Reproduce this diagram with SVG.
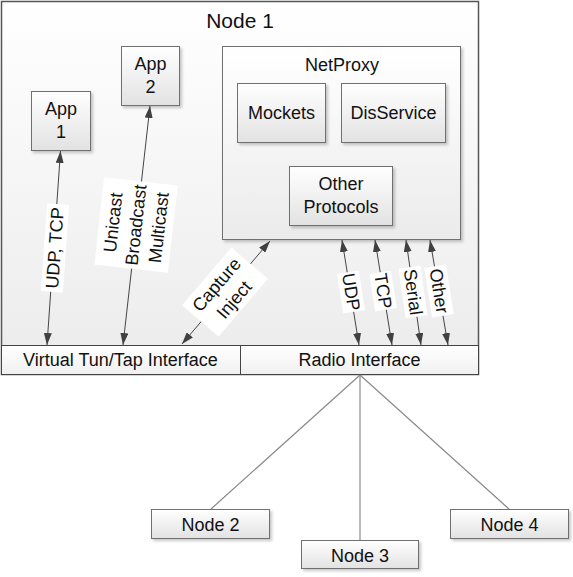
<svg xmlns="http://www.w3.org/2000/svg" width="573" height="577" viewBox="0 0 573 577">
<defs>
<linearGradient id="gBox" x1="0" y1="0" x2="0" y2="1"><stop offset="0" stop-color="#ffffff"/><stop offset="1" stop-color="#e2e2e2"/></linearGradient>
<linearGradient id="gOuter" x1="0" y1="0" x2="0" y2="1"><stop offset="0" stop-color="#ffffff"/><stop offset="1" stop-color="#ebebeb"/></linearGradient>
<linearGradient id="gBar" x1="0" y1="0" x2="0" y2="1"><stop offset="0" stop-color="#ffffff"/><stop offset="1" stop-color="#f0f0f0"/></linearGradient>
<filter id="sh" x="-10%" y="-10%" width="130%" height="130%"><feDropShadow dx="2" dy="2" stdDeviation="1.5" flood-color="#000" flood-opacity="0.22"/></filter>
<marker id="ah" viewBox="0 0 12 8" refX="12" refY="4" markerWidth="12" markerHeight="8" markerUnits="userSpaceOnUse" orient="auto-start-reverse"><path d="M0,0 L12,4 L0,8 z" fill="#404040"/></marker>
</defs>
<style>
text{font-family:"Liberation Sans",Arial,sans-serif;font-size:18px;fill:#111;text-anchor:middle}
.title{font-size:21px}
.box{fill:url(#gBox);stroke:#707070;stroke-width:1;filter:url(#sh)}
.plain{fill:url(#gOuter);stroke:#707070;stroke-width:1;filter:url(#sh)}
.arr{stroke:#444;stroke-width:1;fill:none;marker-start:url(#ah);marker-end:url(#ah)}
.lbl{fill:#fff}
.net{stroke:#8a8a8a;stroke-width:1.2;fill:none}
</style>
<rect width="573" height="577" fill="#fff"/>
<g id="node1">
<rect x="1.5" y="1.5" width="477" height="373" fill="url(#gOuter)" stroke="#555" stroke-width="1.5"/>
<text class="title" x="240" y="28">Node 1</text>
</g>
<g id="interfaces">
<rect x="1.5" y="345.5" width="477" height="29" fill="url(#gBar)" stroke="#444" stroke-width="1"/>
<line x1="240.5" y1="345.5" x2="240.5" y2="374.5" stroke="#444" stroke-width="1"/>
<text x="120.5" y="366">Virtual Tun/Tap Interface</text>
<text x="359.5" y="366">Radio Interface</text>
</g>
<g id="app1">
<rect class="box" x="31.5" y="91.5" width="59" height="59"/>
<text x="61" y="115">App</text><text x="61" y="138">1</text>
</g>
<g id="app2">
<rect class="box" x="121.5" y="46.5" width="58" height="59"/>
<text x="150.5" y="70">App</text><text x="150.5" y="93">2</text>
</g>
<g id="netproxy">
<rect class="plain" x="222.5" y="46.5" width="238" height="193"/>
<text x="342" y="71">NetProxy</text>
</g>
<g id="mockets">
<rect class="box" x="237.5" y="83.5" width="88" height="59"/>
<text x="281.5" y="119">Mockets</text>
</g>
<g id="disservice">
<rect class="box" x="341.5" y="83.5" width="104" height="59"/>
<text x="393.5" y="119">DisService</text>
</g>
<g id="otherprotocols">
<rect class="box" x="289.5" y="166.5" width="103" height="59"/>
<text x="341" y="190">Other</text><text x="341" y="213">Protocols</text>
</g>
<g id="node2">
<rect class="box" x="151.5" y="509.5" width="118" height="29"/>
<text x="210.5" y="531">Node 2</text>
</g>
<g id="node3">
<rect class="box" x="301.5" y="540.5" width="117" height="28"/>
<text x="360" y="562">Node 3</text>
</g>
<g id="node4">
<rect class="box" x="450.5" y="509.5" width="118" height="29"/>
<text x="509.5" y="531">Node 4</text>
</g>
<g id="connectors">
<line class="net" x1="360" y1="375" x2="211" y2="509"/>
<line class="net" x1="360" y1="375" x2="360" y2="540" stroke-width="1.8"/>
<line class="net" x1="360" y1="375" x2="509" y2="509"/>
<line class="arr" x1="60.5" y1="151" x2="47" y2="345"/>
<line class="arr" x1="150" y1="106" x2="123" y2="345"/>
<line class="arr" x1="270" y1="241" x2="182" y2="344"/>
<line class="arr" x1="342" y1="240" x2="359" y2="345"/>
<line class="arr" x1="375" y1="240" x2="392" y2="345"/>
<line class="arr" x1="406" y1="240" x2="421" y2="345"/>
<line class="arr" x1="430" y1="240" x2="448" y2="345"/>
<g transform="translate(55,248) rotate(-85.9)"><rect class="lbl" x="-44" y="-11" width="88" height="22"/><text x="0" y="6">UDP, TCP</text></g>
<g transform="translate(136,225) rotate(-83.6)"><rect class="lbl" x="-44" y="-37" width="88" height="74"/><text x="0" y="-17">Unicast</text><text x="0" y="6">Broadcast</text><text x="0" y="29">Multicast</text></g>
<g transform="translate(225,292) rotate(-49.5)"><rect class="lbl" x="-38" y="-24" width="76" height="48"/><text x="0" y="-5">Capture</text><text x="0" y="18">Inject</text></g>
<g transform="translate(351,292) rotate(81)"><rect class="lbl" x="-20" y="-11" width="40" height="22"/><text x="0" y="6">UDP</text></g>
<g transform="translate(383,291) rotate(81)"><rect class="lbl" x="-19" y="-11" width="38" height="22"/><text x="0" y="6">TCP</text></g>
<g transform="translate(413,292) rotate(82)"><rect class="lbl" x="-25" y="-11" width="50" height="22"/><text x="0" y="6">Serial</text></g>
<g transform="translate(439,291) rotate(81)"><rect class="lbl" x="-25" y="-11" width="50" height="22"/><text x="0" y="6">Other</text></g>
</g>
</svg>
